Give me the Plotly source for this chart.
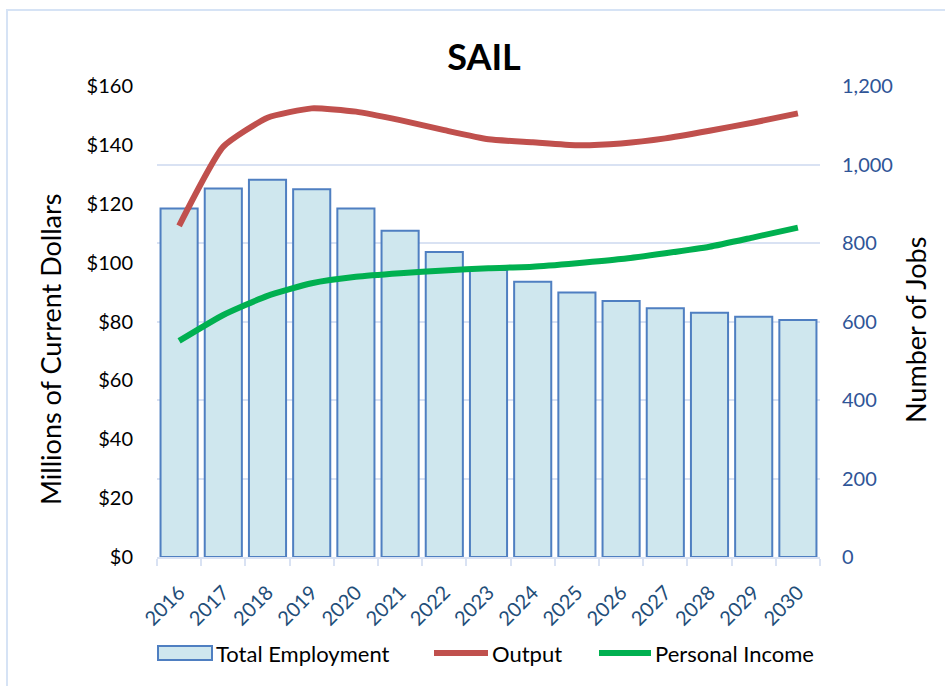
import plotly.graph_objects as go

years = [str(y) for y in range(2016, 2031)]
total_employment = [888, 939, 961, 937, 888, 831, 777, 731, 701, 674, 652, 634, 622, 612, 604]
output = [112.5, 139.4, 149.2, 152.4, 151.3, 148.4, 145.0, 141.9, 140.9, 139.9, 140.5, 142.2, 144.8, 147.6, 150.7]
personal_income = [73.4, 82.2, 88.7, 93.0, 95.2, 96.4, 97.3, 98.1, 98.6, 99.8, 101.2, 103.2, 105.4, 108.6, 111.9]

left_ticks = list(range(0, 161, 20))
right_ticks = list(range(0, 1201, 200))

FONT = "Lato"
GRID = "#D9E2F3"
BAR_FILL = "#CFE7EE"
BAR_LINE = "#4F7FC1"
OUT_COLOR = "#C0504D"
PI_COLOR = "#00B050"

W, H = 945, 686
L, R, T, B = 157, 125, 86, 129
PW, PH = W - L - R, H - T - B


def px(x):
    return (x - L) / PW


def py(y):
    return (H - B - y) / PH


fig = go.Figure()
fig.add_trace(go.Bar(
    x=years, y=total_employment, name="Total Employment", yaxis="y",
    marker=dict(color=BAR_FILL, line=dict(color=BAR_LINE, width=2)),
))
fig.add_trace(go.Scatter(
    x=years, y=output, name="Output", yaxis="y2", mode="lines",
    line=dict(color=OUT_COLOR, width=6, shape="spline", smoothing=0.5),
))
fig.add_trace(go.Scatter(
    x=years, y=personal_income, name="Personal Income", yaxis="y2", mode="lines",
    line=dict(color=PI_COLOR, width=6, shape="spline", smoothing=0.5),
))

# manual legend (Excel-style wide symbols)
leg_y = py(653)
shapes = [
    dict(type="rect", xref="paper", yref="paper", x0=px(7), x1=px(1100), y0=py(720), y1=py(10),
         line=dict(color="#D6E3F5", width=2), layer="below"),
    dict(type="rect", xref="paper", yref="paper", x0=px(158), x1=px(212), y0=py(660), y1=py(646),
         fillcolor=BAR_FILL, line=dict(color=BAR_LINE, width=2)),
    dict(type="line", xref="paper", yref="paper", x0=px(434), x1=px(488), y0=leg_y, y1=leg_y,
         line=dict(color=OUT_COLOR, width=6)),
    dict(type="line", xref="paper", yref="paper", x0=px(599), x1=px(651), y0=leg_y, y1=leg_y,
         line=dict(color=PI_COLOR, width=6)),
]
legend_texts = [("Total Employment", 214), ("Output", 490), ("Personal Income", 653)]
annotations = [
    dict(text=t, xref="paper", yref="paper", x=px(x0), y=leg_y, xanchor="left", yanchor="middle",
         showarrow=False, font=dict(size=22, color="#000000"))
    for t, x0 in legend_texts
]
annotations += [
    dict(text="Millions of Current Dollars", xref="paper", yref="paper", x=px(50), y=py(350),
         textangle=-90, showarrow=False, font=dict(size=27, color="#000000"),
         xanchor="center", yanchor="middle"),
    dict(text="Number of Jobs", xref="paper", yref="paper", x=px(915), y=py(330),
         textangle=-90, showarrow=False, font=dict(size=27, color="#000000"),
         xanchor="center", yanchor="middle"),
]

fig.update_layout(
    width=W, height=H,
    margin=dict(l=L, r=R, t=T, b=B, autoexpand=False),
    paper_bgcolor="white", plot_bgcolor="white",
    font=dict(family=FONT, size=20, color="#000000"),
    bargap=0.16,
    showlegend=False,
    title=dict(text="<b>SAIL</b>", x=484 / W, xanchor="center", y=1 - 57 / H, yanchor="middle",
               font=dict(family=FONT, size=36, color="#000000")),
    xaxis=dict(
        type="category", tickangle=-45, tickfont=dict(color="#1F4E79", size=20),
        showline=True, linecolor=GRID, linewidth=2,
        ticks="outside", tickson="boundaries", ticklen=7, tickcolor=GRID, tickwidth=2,
        showgrid=False, automargin=False, ticklabelstandoff=14,
    ),
    yaxis=dict(
        side="right", range=[0, 1200], tickvals=right_ticks,
        ticktext=[f"{v:,}" for v in right_ticks],
        tickfont=dict(color="#2F5597", size=20),
        showgrid=True, gridcolor=GRID, gridwidth=1.5, zeroline=False, ticks="",
        ticklabelstandoff=21, automargin=False,
    ),
    yaxis2=dict(
        overlaying="y", side="left", range=[0, 160], tickvals=left_ticks,
        ticktext=[f"${v}" for v in left_ticks],
        tickfont=dict(color="#000000", size=20),
        showgrid=False, zeroline=False, ticks="", ticklabelstandoff=23, automargin=False,
    ),
    annotations=annotations,
    shapes=shapes,
)

fig.write_html(
    "out.html",
    config={"displayModeBar": False},
    post_script="document.body.style.margin='0px';document.body.style.padding='0px';document.body.style.overflow='hidden';",
)
